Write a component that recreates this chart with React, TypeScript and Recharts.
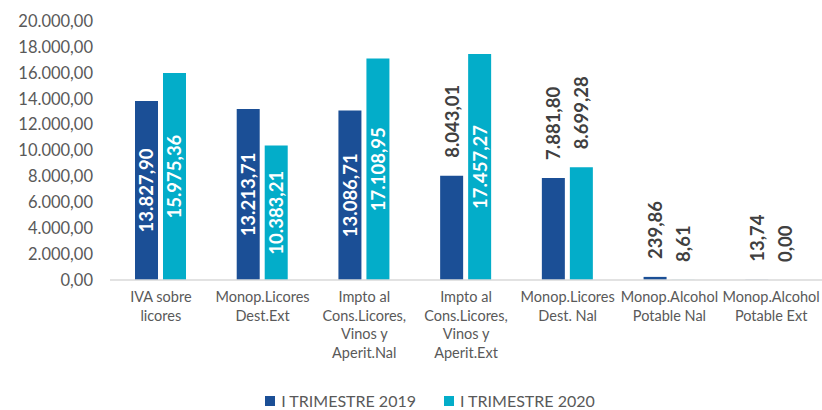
import React from 'react';
import { BarChart, Bar, XAxis, YAxis, LabelList } from 'recharts';

const categories = [
  'IVA sobre\nlicores',
  'Monop.Licores\nDest.Ext',
  'Impto al\nCons.Licores,\nVinos y\nAperit.Nal',
  'Impto al\nCons.Licores,\nVinos y\nAperit.Ext',
  'Monop.Licores\nDest. Nal',
  'Monop.Alcohol\nPotable Nal',
  'Monop.Alcohol\nPotable Ext',
];
const values2019 = [13827.9, 13213.71, 13086.71, 8043.01, 7881.8, 239.86, 13.74];
const values2020 = [15975.36, 10383.21, 17108.95, 17457.27, 8699.28, 8.61, 0];
const yTicks = [0, 2000, 4000, 6000, 8000, 10000, 12000, 14000, 16000, 18000, 20000];

const data = categories.map((name, i) => ({ name, y2019: values2019[i], y2020: values2020[i] }));

const FONT = 'Lato, "Open Sans", sans-serif';
const C2019 = '#1b4f96';
const C2020 = '#03adc9';

const fmt = (v: number, d = 2) =>
  v.toLocaleString('de-DE', { minimumFractionDigits: d, maximumFractionDigits: d });

const XTick = (props: any) => {
  const { x, y, payload } = props;
  const lines = String(payload.value).split('\n');
  return (
    <text x={x} y={y} textAnchor="middle" fill="#595959" fontFamily={FONT} fontSize={14.5}>
      {lines.map((l, i) => (
        <tspan key={i} x={x} dy={i === 0 ? 14 : 18.5}>
          {l}
        </tspan>
      ))}
    </text>
  );
};

const BarLabel = (props: any) => {
  const { x, y, width, height, value } = props;
  const cx = x + width / 2;
  if (value >= 10000) {
    const cy = y + height / 2;
    return (
      <text
        x={cx}
        y={cy}
        transform={`rotate(-90 ${cx} ${cy})`}
        textAnchor="middle"
        dominantBaseline="central"
        fill="#ffffff"
        fontFamily={FONT}
        fontWeight={700}
        fontSize={18.5}
      >
        {fmt(value)}
      </text>
    );
  }
  const ty = y - 18;
  return (
    <text
      x={cx}
      y={ty}
      transform={`rotate(-90 ${cx} ${ty})`}
      textAnchor="start"
      dominantBaseline="central"
      fill="#404040"
      fontFamily={FONT}
      fontWeight={700}
      fontSize={18.5}
    >
      {fmt(value)}
    </text>
  );
};

const legendItems = [
  ['I TRIMESTRE 2019', C2019],
  ['I TRIMESTRE 2020', C2020],
];

export default function App() {
  return (
    <div style={{ position: 'absolute', left: 0, top: 0, width: 822, height: 410, background: '#fff', overflow: 'hidden' }}>
      <BarChart
        width={822}
        height={410}
        data={data}
        margin={{ top: 21, right: 0, left: 0, bottom: 20 }}
        barCategoryGap="25%"
        barGap={5}
      >
        <XAxis
          dataKey="name"
          tick={<XTick />}
          tickLine={false}
          axisLine={{ stroke: '#d9d9d9', strokeWidth: 1.5 }}
          interval={0}
          height={110}
        />
        <YAxis
          width={110}
          domain={[0, 20000]}
          ticks={yTicks}
          tickFormatter={(v: number) => fmt(v)}
          tick={{ fill: '#595959', fontFamily: FONT, fontSize: 16.5 }}
          tickLine={false}
          axisLine={false}
          tickMargin={11}
          interval={0}
        />
        <Bar dataKey="y2019" name="I TRIMESTRE 2019" fill={C2019} barSize={23} minPointSize={0.01} isAnimationActive={false}>
          <LabelList dataKey="y2019" content={<BarLabel />} />
        </Bar>
        <Bar dataKey="y2020" name="I TRIMESTRE 2020" fill={C2020} barSize={23} minPointSize={0.01} isAnimationActive={false}>
          <LabelList dataKey="y2020" content={<BarLabel />} />
        </Bar>
      </BarChart>
      <div
        style={{
          position: 'absolute',
          top: 392,
          left: 0,
          width: 822,
          display: 'flex',
          justifyContent: 'center',
          paddingLeft: 38,
          boxSizing: 'border-box',
          fontFamily: FONT,
          fontSize: 16,
          color: '#595959',
          lineHeight: '18px',
        }}
      >
        {legendItems.map(([label, color]) => (
          <div key={label} style={{ display: 'flex', alignItems: 'center', margin: '0 14px' }}>
            <span style={{ width: 10, height: 10, background: color, marginRight: 6, display: 'inline-block' }} />
            {label}
          </div>
        ))}
      </div>
    </div>
  );
}
